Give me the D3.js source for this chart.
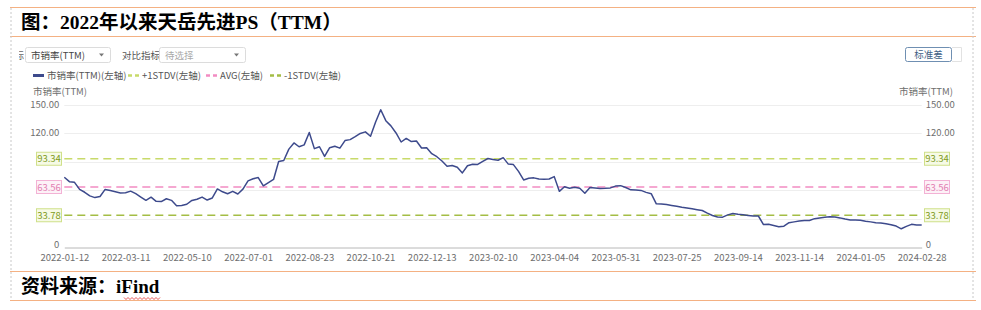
<!DOCTYPE html>
<html>
<head>
<meta charset="utf-8">
<script src="https://cdn.jsdelivr.net/npm/d3@7"></script>
<style>
  body { margin: 0; background: #fff; }
  svg { display: block; }
  .ui { font-family: "Noto Sans CJK SC", "Noto Sans", sans-serif; font-size: 9.5px; }
  .axis text { font-family: "Noto Sans CJK SC", "Noto Sans", sans-serif; font-size: 9.5px; fill: #6e6e6e; }
</style>
</head>
<body>
<svg id="chart" width="981" height="310"></svg>
<script>
// tick labels on the category (trading day) axis, one every 12 points
const dateLabels = ['2022-01-12', '2022-03-11', '2022-05-10', '2022-07-01', '2022-08-23',
  '2022-10-21', '2022-12-13', '2023-02-10', '2023-04-04', '2023-05-31',
  '2023-07-25', '2023-09-14', '2023-11-14', '2024-01-05', '2024-02-28'];
const pointsPerLabel = 12;

// PS(TTM)
const psValues = [
  73.8, 69.2, 68.5, 61, 58, 54.2, 52.4, 53.5, 61, 59.8, 58.6, 57.3,
  57.5, 59.2, 56.5, 53, 49.5, 52.8, 48.5, 48.2, 51.2, 49.5, 43.7, 44,
  45.4, 49.4, 50.6, 52.9, 49.8, 52, 61.5, 58.5, 56.5, 59, 56.2, 61.3,
  70, 72.2, 73.5, 64.8, 68.2, 71.5, 90.5, 91.5, 103.5, 110, 106, 108,
  121, 104, 106, 95.8, 105, 106.5, 104.5, 112.5, 113.5, 116.6, 120, 121.7,
  117, 132, 145, 133.5, 128, 120.5, 111, 114.8, 111.5, 112, 104.7, 105,
  98.7, 95.5, 91, 85.5, 86.2, 84.3, 78.4, 86, 87.6, 87.3, 90.6, 93.6,
  92.6, 91.8, 94.5, 87.7, 87.2, 80, 71, 72.7, 73.2, 72, 71.8, 72,
  74.5, 59, 63.8, 62.2, 63.2, 62.2, 57, 63, 62.5, 62, 62.2, 62.6,
  64.5, 65, 63, 60.6, 60.3, 60, 57.9, 56.5, 45.8, 45.6, 45, 44.1,
  43.3, 42.3, 41.5, 40.6, 39.7, 38.8, 36, 33.5, 32, 31.8, 34.2, 35.7,
  34.9, 34.3, 33.6, 33, 33, 24, 24.3, 23, 21.7, 22.3, 26, 26.8,
  27.7, 28.2, 28.2, 30.2, 31, 31.7, 32.3, 32, 31, 29.8, 28.8, 28.8,
  28.4, 27.5, 26.8, 26, 25.5, 24.8, 23.8, 22.4, 19.5, 22, 24.2, 23.6,
  23.5
];

const yTicks = [0, 30, 60, 90, 120, 150];
// 30/60/90 labels sit under the band value boxes, only these show
const yLabelTicks = [0, 120, 150];

// reference lines
const bands = [
  { name: '+1STDV(左轴)', value: 93.34, color: '#c8da6a', fill: '#f6fae6', stroke: '#cfe08a', text: '#7f9a22' },
  { name: 'AVG(左轴)', value: 63.56, color: '#f28cc2', fill: '#fdf1f7', stroke: '#f3b2d5', text: '#e27fb2' },
  { name: '-1STDV(左轴)', value: 33.78, color: '#a4bd45', fill: '#f6fae6', stroke: '#cfe08a', text: '#7f9a22' }
];

const svg = d3.select('#chart');
const orange = '#f4b183';

// frame: orange rules + dashed gray sides
[7.5, 36.5, 271.5, 300.5].forEach(y => {
  svg.append('line').attr('x1', 10).attr('x2', 976).attr('y1', y).attr('y2', y)
    .attr('stroke', orange).attr('stroke-width', 1.2);
});
[11, 973].forEach(x => {
  svg.append('line').attr('x1', x).attr('x2', x).attr('y1', 8).attr('y2', 300)
    .attr('stroke', '#c8c8c8').attr('stroke-dasharray', '2,2');
});

// title and source
svg.append('text').attr('x', 21).attr('y', 29)
  .attr('font-family', '"Liberation Serif", "Noto Sans CJK SC", serif')
  .attr('font-weight', 'bold').attr('font-size', 19.5).attr('fill', '#000')
  .text('图：2022年以来天岳先进PS（TTM）');
const src = svg.append('text').attr('x', 21).attr('y', 293)
  .attr('font-family', '"Liberation Serif", "Noto Sans CJK SC", serif')
  .attr('font-weight', 'bold').attr('font-size', 19).attr('fill', '#000');
src.append('tspan').text('资料来源：');
src.append('tspan').text('iFind');
// spell-check squiggle under iFind
const sq = d3.path();
sq.moveTo(124, 297.5);
for (let x = 124; x < 160; x += 4) {
  sq.lineTo(x + 2, 299.5);
  sq.lineTo(x + 4, 297.5);
}
svg.append('path').attr('d', sq.toString()).attr('fill', 'none')
  .attr('stroke', '#e03030').attr('stroke-width', 0.8);

// toolbar
const ui = svg.append('g').attr('class', 'ui');
svg.append('clipPath').attr('id', 'cut').append('rect')
  .attr('x', 19).attr('y', 40).attr('width', 5).attr('height', 20);
ui.append('text').attr('x', 24).attr('y', 58.5).attr('text-anchor', 'end')
  .attr('clip-path', 'url(#cut)').attr('fill', '#666').text('指标');

function dropdown(x, w, label, color) {
  ui.append('rect').attr('x', x + 0.5).attr('y', 47.5).attr('width', w).attr('height', 15)
    .attr('rx', 2).attr('fill', '#fff').attr('stroke', '#dcdcdc');
  ui.append('text').attr('x', x + 6).attr('y', 58.5).attr('fill', color).text(label);
  ui.append('path').attr('d', `M${x + w - 11},53.5 l5,0 l-2.5,3 z`).attr('fill', '#777');
}
dropdown(25, 85, '市销率(TTM)', '#444');
ui.append('text').attr('x', 122).attr('y', 58.5).attr('fill', '#555').text('对比指标');
dropdown(159, 86, '待选择', '#aaa');

ui.append('rect').attr('x', 905.5).attr('y', 47.5).attr('width', 46).attr('height', 14)
  .attr('rx', 2).attr('fill', '#fff').attr('stroke', '#6f8fb2');
ui.append('text').attr('x', 928.5).attr('y', 58).attr('text-anchor', 'middle')
  .attr('fill', '#3f5f86').text('标准差');
ui.append('path').attr('d', 'M952,47.5 H961.5 V61.5 H952').attr('fill', 'none').attr('stroke', '#e2e2e2');

// legend
const legendItems = [
  { name: '市销率(TTM)(左轴)', color: '#3d4a8c', dash: null, x: 33 },
  { name: bands[0].name, color: bands[0].color, dash: '4,3', x: 128 },
  { name: bands[1].name, color: bands[1].color, dash: '4,3', x: 206 },
  { name: bands[2].name, color: bands[2].color, dash: '4,3', x: 270 }
];
legendItems.forEach(d => {
  ui.append('line').attr('x1', d.x).attr('x2', d.x + 11).attr('y1', 75.5).attr('y2', 75.5)
    .attr('stroke', d.color).attr('stroke-width', d.dash ? 2.5 : 3)
    .attr('stroke-dasharray', d.dash);
  ui.append('text').attr('x', d.x + 14).attr('y', 79).attr('fill', '#555').text(d.name);
});
ui.append('text').attr('x', 33).attr('y', 94.5).attr('fill', '#6e6e6e').text('市销率(TTM)');
ui.append('text').attr('x', 953).attr('y', 94.5).attr('text-anchor', 'end')
  .attr('fill', '#6e6e6e').text('市销率(TTM)');

// scales
const x0 = 64.3, x1 = 921.7;
const x = d3.scaleLinear().domain([0, psValues.length - 1]).range([x0, x1]);
const y = d3.scaleLinear().domain([0, 150]).range([247.3, 105]);
const fmt = d => d === 0 ? '0' : d.toFixed(2);

// grid
svg.append('g').selectAll('line').data(yTicks.filter(d => d > 0)).join('line')
  .attr('x1', x0).attr('x2', x1)
  .attr('y1', d => Math.round(y(d)) + 0.5).attr('y2', d => Math.round(y(d)) + 0.5)
  .attr('stroke', '#eeeeee');

// axes
const leftAxis = svg.append('g').attr('class', 'axis').attr('transform', `translate(${x0},-1)`)
  .call(d3.axisLeft(y).tickValues(yLabelTicks).tickFormat(fmt).tickSize(0).tickPadding(5));
leftAxis.select('.domain').remove();
const rightAxis = svg.append('g').attr('class', 'axis').attr('transform', `translate(${x1},-1)`)
  .call(d3.axisRight(y).tickValues(yLabelTicks).tickFormat(fmt).tickSize(0).tickPadding(4));
rightAxis.select('.domain').remove();
// lift the zero labels a little so they clear the date labels
[leftAxis, rightAxis].forEach(g => g.selectAll('.tick').filter(d => d === 0)
  .select('text').attr('dy', '0.1em'));

const xAxis = svg.append('g').attr('class', 'axis').attr('transform', `translate(0,${Math.round(y(0)) + 0.5})`)
  .call(d3.axisBottom(x)
    .tickValues(d3.range(0, psValues.length, pointsPerLabel))
    .tickFormat(i => dateLabels[i / pointsPerLabel])
    .tickSize(0).tickSizeOuter(0).tickPadding(7));
xAxis.select('.domain').attr('stroke', '#b8b8b8');

// reference lines and their value boxes
bands.forEach(b => {
  const yy = y(b.value);
  svg.append('line').attr('x1', x0).attr('x2', x1).attr('y1', yy).attr('y2', yy)
    .attr('stroke', b.color).attr('stroke-width', 1.5).attr('stroke-dasharray', '8,5');
  [36.5, 924.5].forEach(bx => {
    svg.append('rect').attr('x', bx).attr('y', yy - 6.5).attr('width', 25).attr('height', 13)
      .attr('fill', b.fill).attr('stroke', b.stroke);
    svg.append('text').attr('class', 'ui').attr('x', bx + 12.5).attr('y', yy + 3.5)
      .attr('text-anchor', 'middle').attr('fill', b.text).text(b.value.toFixed(2));
  });
});

// PS line
const line = d3.line().x((d, i) => x(i)).y(d => y(d));
svg.append('path').datum(psValues).attr('d', line)
  .attr('fill', 'none').attr('stroke', '#3d4a8c').attr('stroke-width', 1.5)
  .attr('stroke-linejoin', 'round');
</script>
</body>
</html>
